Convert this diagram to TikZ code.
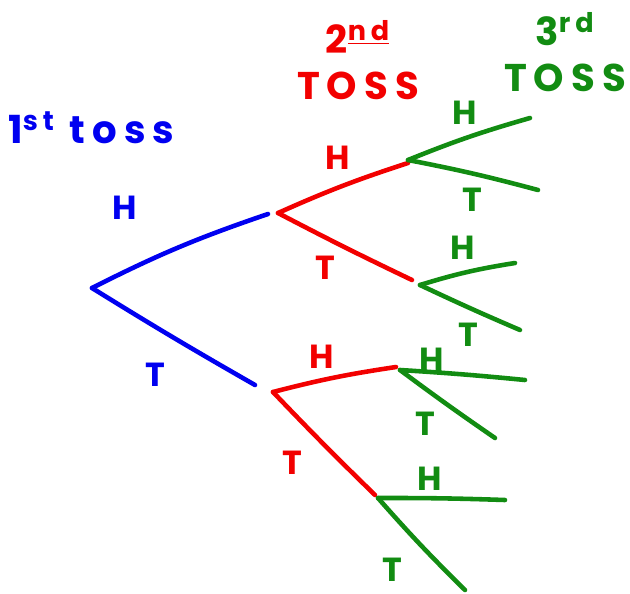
\documentclass[tikz,border=0pt]{standalone}
\usepackage{fontspec}
\setmainfont{Poppins}
\usetikzlibrary{positioning}
\definecolor{penblue}{HTML}{0000F0}
\definecolor{penred}{HTML}{F20000}
\definecolor{pengreen}{HTML}{128C12}

\begin{document}
\begin{tikzpicture}[
      x=0.02cm, y=-0.02cm,
      pen/.style={line width=2.6pt, line cap=round, line join=round},
      lab/.style={font=\fontsize{19}{19}\selectfont\bfseries, inner sep=0pt},
      head/.style={font=\fontsize{22}{26}\selectfont\bfseries\addfontfeatures{LetterSpace=18},
                   inner sep=0pt, align=center},
    ]
    \useasboundingbox (0,0) rectangle (630,593);

    % branch points
    \coordinate (root) at (92,288);
    \coordinate (H)    at (268,214);
    \coordinate (T)    at (255,385);
    \coordinate (Hs)   at (278,213);
    \coordinate (Ts)   at (273,392);
    \coordinate (HH)   at (408,163);
    \coordinate (HT)   at (412,280);
    \coordinate (TH)   at (396,367);
    \coordinate (TT)   at (375,495);
    \coordinate (HHs)  at (408,160);
    \coordinate (HTs)  at (420,285);
    \coordinate (THs)  at (400,370);
    \coordinate (TTs)  at (378,498);
    \coordinate (HHH)  at (530,118);
    \coordinate (HHT)  at (538,190);
    \coordinate (HTH)  at (515,263);
    \coordinate (HTT)  at (520,330);
    \coordinate (THH)  at (525,380);
    \coordinate (THT)  at (495,438);
    \coordinate (TTH)  at (505,500);
    \coordinate (TTT)  at (465,590);

    % headings
    \node[head, text=penblue, anchor=west] (first) at (8,128) {1\textsuperscript{st} toss};
    \node[head, text=penred] (second) at (358,60) {2\textsuperscript{\underline{nd}}\\TOSS};
    \node[head, text=pengreen] (third) at (565,52) {3\textsuperscript{rd}\\TOSS};

    % 1st toss
    \draw[pen, penblue] (root) to[bend left=4] (H);
    \draw[pen, penblue] (root) to[bend right=1] (T);
    \node[lab, text=penblue] (lH1) at (125,208) {H};
    \node[lab, text=penblue] (lT1) at (155,375) {T};

    % 2nd toss
    \draw[pen, penred] (Hs) to[bend left=3] (HH);
    \draw[pen, penred] (Hs) to[bend right=1] (HT);
    \draw[pen, penred] (Ts) to[bend left=3] (TH);
    \draw[pen, penred] (Ts) to[bend right=1] (TT);
    \node[lab, text=penred] (lHH) at (338,158) {H};
    \node[lab, text=penred] (lHT) at (325,268) {T};
    \node[lab, text=penred] (lTH) at (322,357) {H};
    \node[lab, text=penred] (lTT) at (292,463) {T};

    % 3rd toss
    \draw[pen, pengreen] (HHs) to[bend left=3] (HHH);
    \draw[pen, pengreen] (HHs) to[bend left=2] (HHT);
    \draw[pen, pengreen] (HTs) to[bend left=4] (HTH);
    \draw[pen, pengreen] (HTs) to[bend right=1] (HTT);
    \draw[pen, pengreen] (THs) to[bend left=1] (THH);
    \draw[pen, pengreen] (THs) to[bend right=1] (THT);
    \draw[pen, pengreen] (TTs) to[bend left=1] (TTH);
    \draw[pen, pengreen] (TTs) to[bend right=2] (TTT);
    \node[lab, text=pengreen] (lHHH) at (465,113) {H};
    \node[lab, text=pengreen] (lHHT) at (472,200) {T};
    \node[lab, text=pengreen] (lHTH) at (463,248) {H};
    \node[lab, text=pengreen] (lHTT) at (468,335) {T};
    \node[lab, text=pengreen] (lTHH) at (432,360) {H};
    \node[lab, text=pengreen] (lTHT) at (425,424) {T};
    \node[lab, text=pengreen] (lTTH) at (430,479) {H};
    \node[lab, text=pengreen] (lTTT) at (392,570) {T};
\end{tikzpicture}
\end{document}
